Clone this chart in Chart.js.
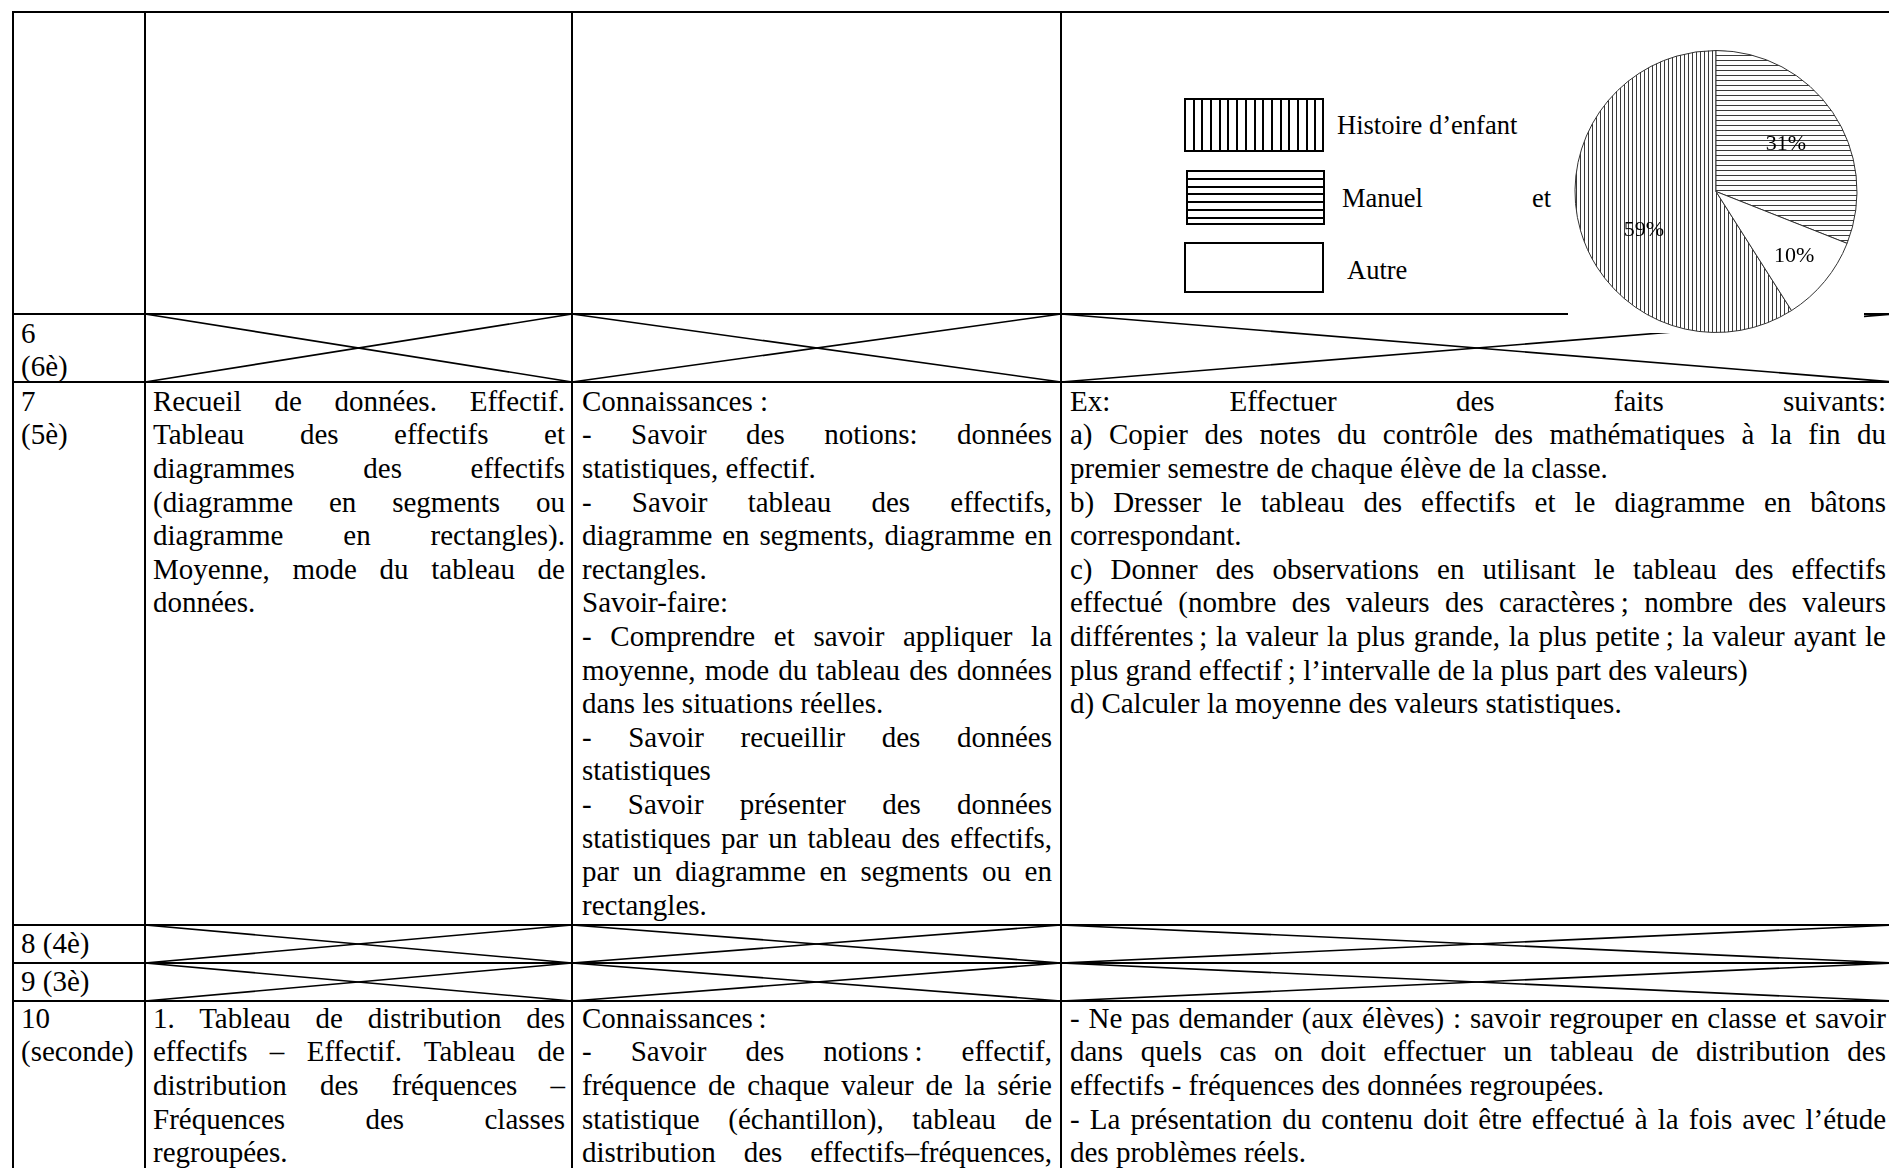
<!DOCTYPE html>
<html><head><meta charset="utf-8">
<script src="https://cdn.jsdelivr.net/npm/chart.js@4.4.1/dist/chart.umd.min.js"></script>
<style>
html,body{margin:0;padding:0;background:#fff;}
#page{position:relative;width:1889px;height:1168px;overflow:hidden;font-family:'Liberation Serif','Times New Roman',serif;color:#000;background:#fff;}
.hl{position:absolute;height:2px;background:#000;}
.vl{position:absolute;width:2px;background:#000;}
.ln{position:absolute;white-space:nowrap;font-size:29px;}
#diag{position:absolute;left:0;top:0;}
#pieBox{position:absolute;left:1568px;top:50px;width:296px;height:283px;background:#fff;}
.lgBox{position:absolute;border:2px solid #000;box-sizing:border-box;background:#fff;}
.lgTxt{position:absolute;font-size:26.5px;line-height:30px;white-space:nowrap;}
</style>
</head><body>
<div id="page">
  <svg id="diag" width="1889" height="1168"></svg>
  <div id="pieBox"><canvas id="pie" width="296" height="283"></canvas></div>
</div>
<script>
// ---- chart data ----
const categories = ['Histoire d’enfant', 'Manuel', 'Autre'];
const shares = [59, 31, 10];
const legendExtra = 'et';

// ---- table layout ----
const colX = [13, 145, 572, 1061, 1893];
const rowY = [12, 314, 382, 925, 963, 1001, 1220];
const padL = [8, 8, 10, 9];
const padR = [8, 7, 9, 7];
const LH = 33.6;
const firstOff = [0, 19.5, 19.5, 18.5, 18.5, 17.5];
const crossed = [[1,1],[1,2],[1,3],[3,1],[3,2],[3,3],[4,1],[4,2],[4,3]];
const T = '\u202F'; // narrow no-break space (French punctuation)

// [row, col, lines]  line: [text, justify]
const cells = [
 [1,0,[['6',0],['(6è)',0]]],
 [2,0,[['7',0],['(5è)',0]]],
 [2,1,[
  ['Recueil de données. Effectif.',1],
  ['Tableau des effectifs et',1],
  ['diagrammes des effectifs',1],
  ['(diagramme en segments ou',1],
  ['diagramme en rectangles).',1],
  ['Moyenne, mode du tableau de',1],
  ['données.',0]]],
 [2,2,[
  ['Connaissances :',0],
  ['-    Savoir des notions: données',1],
  ['statistiques, effectif.',0],
  ['-    Savoir tableau des effectifs,',1],
  ['diagramme en segments, diagramme en',1],
  ['rectangles.',0],
  ['Savoir-faire:',0],
  ['- Comprendre et savoir appliquer la',1],
  ['moyenne, mode du tableau des données',1],
  ['dans les situations réelles.',0],
  ['-    Savoir recueillir des données',1],
  ['statistiques',0],
  ['-    Savoir présenter des données',1],
  ['statistiques par un tableau des effectifs,',1],
  ['par un diagramme en segments ou en',1],
  ['rectangles.',0]]],
 [2,3,[
  ['Ex: Effectuer des faits suivants:',1],
  ['a) Copier des notes du contrôle des mathématiques à la fin du',1],
  ['premier semestre de chaque élève de la classe.',0],
  ['b) Dresser le tableau des effectifs et le diagramme en bâtons',1],
  ['correspondant.',0],
  ['c) Donner des observations en utilisant le tableau des effectifs',1],
  ['effectué (nombre des valeurs des caractères'+T+'; nombre des valeurs',1],
  ['différentes'+T+'; la valeur la plus grande, la plus petite'+T+'; la valeur ayant le',1],
  ['plus grand effectif'+T+'; l’intervalle de la plus part des valeurs)',0],
  ['d) Calculer la moyenne des valeurs statistiques.',0]]],
 [3,0,[['8 (4è)',0]]],
 [4,0,[['9 (3è)',0]]],
 [5,0,[['10',0],['(seconde)',0]]],
 [5,1,[
  ['1. Tableau de distribution des',1],
  ['effectifs – Effectif. Tableau de',1],
  ['distribution des fréquences –',1],
  ['Fréquences des classes',1],
  ['regroupées.',0]]],
 [5,2,[
  ['Connaissances'+T+':',0],
  ['-    Savoir des notions'+T+': effectif,',1],
  ['fréquence de chaque valeur de la série',1],
  ['statistique (échantillon), tableau de',1],
  ['distribution des effectifs–fréquences,',1]]],
 [5,3,[
  ['- Ne pas demander (aux élèves) : savoir regrouper en classe et savoir',1],
  ['dans quels cas on doit effectuer un tableau de distribution des',1],
  ['effectifs - fréquences des données regroupées.',0],
  ['- La présentation du contenu doit être effectué à la fois avec l’étude',1],
  ['des problèmes réels.',0]]]
];

const page = document.getElementById('page');
const svg = document.getElementById('diag');
const NS = 'http://www.w3.org/2000/svg';
function line(x1,y1,x2,y2,w){
  const l = document.createElementNS(NS,'line');
  l.setAttribute('x1',x1);l.setAttribute('y1',y1);l.setAttribute('x2',x2);l.setAttribute('y2',y2);
  l.setAttribute('stroke','#000');l.setAttribute('stroke-width',w);
  svg.appendChild(l);
}
crossed.forEach(([r,c])=>{
  const x0=colX[c], x1=colX[c+1], y0=rowY[r], y1=rowY[r+1];
  line(x0,y0,x1,y1,1.6); line(x0,y1,x1,y0,1.6);
});
const pieBox = document.getElementById('pieBox');
rowY.slice(0,6).forEach(y=>{
  const d=document.createElement('div');d.className='hl';
  d.style.left=(colX[0]-1)+'px';d.style.top=(y-1)+'px';d.style.width=(colX[4]-colX[0]+2)+'px';
  page.insertBefore(d,pieBox);
});
colX.forEach(x=>{
  const d=document.createElement('div');d.className='vl';
  d.style.left=(x-1)+'px';d.style.top=(rowY[0]-1)+'px';d.style.height=(1200)+'px';
  page.insertBefore(d,pieBox);
});

cells.forEach(([r,c,lines])=>{
  const x0 = colX[c]+padL[c], x1 = colX[c+1]-padR[c], W = x1-x0;
  lines.forEach(([t,j],i)=>{
    const d=document.createElement('div');d.className='ln';
    const cy = rowY[r]+firstOff[r]+i*LH;
    d.style.left=x0+'px';d.style.top=(cy-LH/2)+'px';d.style.lineHeight=LH+'px';
    const s=document.createElement('span');s.textContent=t;d.appendChild(s);
    page.insertBefore(d,pieBox);
    if(j){
      const nat=s.getBoundingClientRect().width;
      const n=(t.replace(/ +/g,' ').match(/ /g)||[]).length;
      if(n>0) d.style.wordSpacing=((W-nat)/n)+'px';
    }
  });
});

// ---- pie chart ----
const cv = document.getElementById('pie');
const cctx = cv.getContext('2d');
function stripes(dir, period, color){
  const c=document.createElement('canvas');c.width=period;c.height=period;
  const g=c.getContext('2d');g.fillStyle='#fff';g.fillRect(0,0,period,period);
  g.fillStyle=color;
  if(dir==='v') g.fillRect(0,0,1,period); else g.fillRect(0,0,period,1);
  return cctx.createPattern(c,'repeat');
}
const fills = [stripes('v',4,'#3a3a3a'), stripes('h',5,'#3a3a3a'), '#ffffff'];
// label placement inside each slice: [fraction of angular span, fraction of radius]
const labelPlace = [[0.443, 0.58], [0.5, 0.6], [0.5, 0.72]];
const total = shares.reduce((a,b)=>a+b,0);
const sliceText = shares.map(v=>v+'%');

const labelPlugin = {
  id:'sliceLabels',
  afterDatasetsDraw(chart){
    const ctx=chart.ctx, meta=chart.getDatasetMeta(0);
    ctx.save();
    ctx.font='22px "Liberation Serif", "Times New Roman", serif';
    ctx.fillStyle='#000';ctx.textAlign='center';ctx.textBaseline='middle';
    meta.data.forEach((arc,i)=>{
      const p=arc.getProps(['x','y','startAngle','endAngle','outerRadius'],true);
      const a=p.startAngle+(p.endAngle-p.startAngle)*labelPlace[i][0];
      const rr=p.outerRadius*labelPlace[i][1];
      ctx.fillText(sliceText[i], p.x+rr*Math.cos(a), p.y+rr*Math.sin(a));
    });
    ctx.restore();
  }
};

new Chart(cv,{
  type:'pie',
  data:{labels:categories,datasets:[{data:shares,backgroundColor:fills,borderColor:'#333',borderWidth:1}]},
  options:{
    responsive:false,animation:false,
    rotation: 360 - shares[0]/total*360,
    layout:{padding:0},
    plugins:{legend:{display:false},tooltip:{enabled:false}}
  },
  plugins:[labelPlugin]
});

// ---- legend ----
const lgBoxes=[[1184,98,140,54],[1186,170,139,55],[1184,242,140,51]];
const lgBg=[
  'repeating-linear-gradient(90deg,#fff 0px,#fff 6.7px,#000 6.7px,#000 8.7px)',
  'repeating-linear-gradient(180deg,#fff 0px,#fff 5.8px,#000 5.8px,#000 7.8px)',
  '#fff'];
const lgTxt=[[1337,125],[1342,198],[1347,270]];
categories.forEach((name,i)=>{
  const b=document.createElement('div');b.className='lgBox';
  const [x,y,w,h]=lgBoxes[i];
  b.style.left=x+'px';b.style.top=y+'px';b.style.width=w+'px';b.style.height=h+'px';
  b.style.background=lgBg[i];
  page.appendChild(b);
  const t=document.createElement('div');t.className='lgTxt';t.textContent=name;
  t.style.left=lgTxt[i][0]+'px';t.style.top=(lgTxt[i][1]-15)+'px';
  page.appendChild(t);
});
const et=document.createElement('div');et.className='lgTxt';et.textContent=legendExtra;
et.style.left='1532px';et.style.top=(198-15)+'px';page.appendChild(et);
</script>
</body></html>
